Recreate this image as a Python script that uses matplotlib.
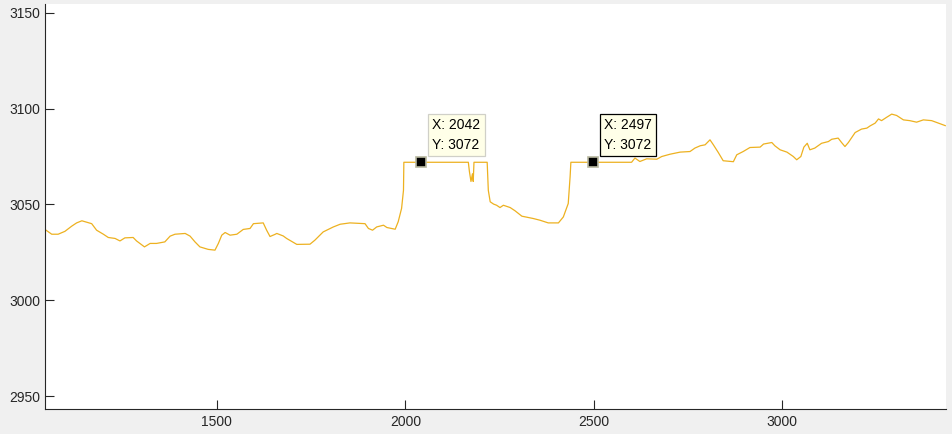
import matplotlib.pyplot as plt

plt.rcParams["font.family"] = ["Liberation Sans", "DejaVu Sans"]

# signal
xs = [1044, 1051, 1062, 1079, 1097, 1115, 1128, 1142, 1168, 1181, 1199, 1212, 1230, 1243,
      1256, 1278, 1287, 1308, 1323, 1340, 1362, 1376, 1389, 1416, 1429, 1442, 1455, 1477,
      1495, 1504, 1513, 1522, 1535, 1553, 1570, 1588, 1597, 1623, 1632, 1641, 1654, 1659,
      1676, 1685, 1712, 1747, 1760, 1782, 1809, 1827, 1853, 1893, 1902, 1913, 1924, 1942,
      1951, 1973, 1981, 1990, 1995, 1996, 2042, 2167, 2170, 2174, 2178, 2180, 2182, 2217,
      2220, 2225, 2234, 2242, 2251, 2260, 2278, 2291, 2309, 2339, 2357, 2379, 2406, 2419,
      2432, 2437, 2439, 2497, 2600, 2609, 2622, 2640, 2667, 2680, 2702, 2729, 2755, 2768,
      2782, 2795, 2808, 2817, 2830, 2843, 2870, 2879, 2896, 2914, 2941, 2950, 2972, 2980,
      2994, 3012, 3029, 3038, 3049, 3057, 3066, 3073, 3086, 3104, 3122, 3131, 3148, 3157,
      3166, 3175, 3193, 3210, 3224, 3233, 3246, 3255, 3263, 3277, 3290, 3303, 3321, 3338,
      3356, 3374, 3396, 3414, 3432]
ys = [3037, 3036, 3034.5, 3034.5, 3036, 3038.7, 3040.4, 3041.5, 3040, 3036.6, 3034.5, 3032.8, 3032.3, 3031,
      3032.6, 3032.8, 3031, 3027.9, 3029.7, 3029.7, 3030.5, 3033.5, 3034.5, 3034.9, 3033.5, 3030.5, 3027.9, 3026.6,
      3026.2, 3029.7, 3034, 3035.4, 3034, 3034.5, 3037, 3037.5, 3040, 3040.4, 3036.6, 3033.3, 3034.4, 3034.9,
      3033.6, 3032.3, 3029.2, 3029.3, 3031.4, 3035.7, 3038.3, 3039.7, 3040.4, 3040, 3037.5, 3036.6, 3038.3, 3039.2,
      3038, 3037.1, 3041, 3048, 3057.4, 3072, 3072, 3072, 3067, 3062, 3066, 3062, 3072, 3072,
      3057.4, 3051.4, 3050.2, 3049.6, 3048.4, 3049.6, 3048.4, 3046.7, 3043.9, 3042.7, 3041.8, 3040.4, 3040.4, 3043.5,
      3050.5, 3064.6, 3072, 3072, 3072, 3074.2, 3072.4, 3073.8, 3073.6, 3075, 3076.2, 3077.3, 3077.6, 3079.4,
      3080.6, 3081.1, 3083.7, 3081.1, 3077.1, 3072.8, 3072.3, 3075.9, 3077.6, 3079.7, 3079.9, 3081.5, 3082.3, 3080.6,
      3078.5, 3077.3, 3075, 3073.3, 3075, 3079.9, 3081.9, 3078.5, 3079.4, 3081.9, 3082.8, 3084, 3084.6, 3082.3,
      3080.2, 3082.3, 3087.5, 3089.3, 3089.8, 3091, 3092.4, 3094.6, 3093.7, 3095.5, 3097.1, 3096.4, 3094.1, 3093.7,
      3092.9, 3094.1, 3093.7, 3092.4, 3091.1]

tips_x = [2042, 2497]
tips_y = [3072, 3072]
tip_edge = ["#d0d0c8", "black"]

fig = plt.figure(figsize=(9.52, 4.34), dpi=100, facecolor="#f0f0f0")
ax = fig.add_axes([0.0476, 0.0576, 0.9461, 0.9332])
ax.plot(xs, ys, color="#EDB120", lw=0.9)

for tx, ty, ec in zip(tips_x, tips_y, tip_edge):
    ax.plot(tx, ty, "s", ms=7.5, mfc="black", mec="#b8b8a0", mew=1.2, zorder=5)
    ax.annotate("X: %d\nY: %d" % (tx, ty), xy=(tx, ty), xytext=(8, 7.5),
                textcoords="offset points", ha="left", va="bottom", fontsize=10,
                linespacing=1.55,
                bbox=dict(boxstyle="square,pad=0.3", fc="#ffffe8", ec=ec, lw=0.9))

ax.set_xlim(1045, 3434)
ax.set_ylim(2943.4, 3154.5)
ax.set_xticks([1500, 2000, 2500, 3000])
ax.set_yticks([2950, 3000, 3050, 3100, 3150])
for s in ["top", "right"]:
    ax.spines[s].set_visible(False)
for s in ["left", "bottom"]:
    ax.spines[s].set_color("#262626")
    ax.spines[s].set_linewidth(0.8)
ax.tick_params(direction="in", length=6.5, width=0.8, color="#262626",
               labelcolor="#262626", labelsize=10)
ax.tick_params(axis="y", pad=3.5)
ax.tick_params(axis="x", pad=4)

plt.savefig("out.png", dpi=100, facecolor=fig.get_facecolor())
